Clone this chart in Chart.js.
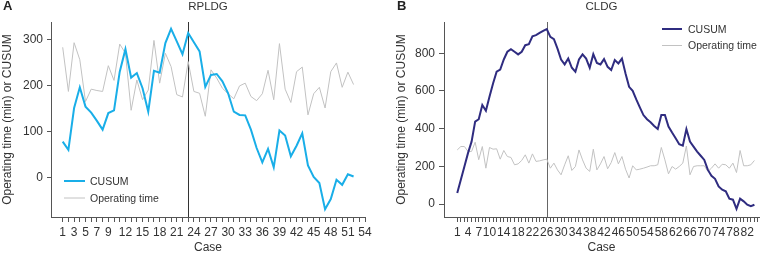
<!DOCTYPE html>
<html><head><meta charset="utf-8">
<script src="https://cdn.jsdelivr.net/npm/chart.js@4/dist/chart.umd.min.js"></script>
<style>
html,body{margin:0;padding:0;background:#fff;}
#wrap{position:relative;width:761px;height:253px;overflow:hidden;background:#fff}
canvas{position:absolute;top:0}
</style></head><body>
<div id="wrap">
<canvas id="ca" width="380" height="253" style="left:0px"></canvas>
<canvas id="cb" width="381" height="253" style="left:380px"></canvas>
</div>
<script>
// ---------- Data ----------
const cusumA = [78,60,151,196,154,141,123,104,140,146,230,279,217,227,194,143,232,228,292,323,296,268,314,294,274,197,223,225,209,183,143,136,135,104,64,33,62,22,102,91,46,69,96,26,1,-12,-69,-47,-5,-16,7,2];
const opTimeA = [283,187,293,256,165,192,189,187,243,211,290,270,146,212,169,190,298,205,270,241,180,175,252,187,183,133,234,216,194,182,171,199,205,176,167,182,233,169,291,192,163,230,240,136,182,196,151,230,249,196,229,202];
const cusumB = [58,129,199,270,331,437,450,525,495,569,640,702,714,767,808,822,808,794,808,843,848,890,896,908,919,928,887,875,825,767,741,772,723,702,767,794,772,723,795,749,741,769,728,711,764,746,772,693,622,601,555,513,472,450,434,414,398,472,472,411,379,349,317,310,398,331,305,278,256,234,181,150,134,93,76,67,28,23,-26,28,14,-4,-12,-4];
const opTimeB = [287,305,305,279,279,328,235,305,190,300,291,293,238,284,252,247,208,213,231,261,217,266,226,229,234,238,190,217,181,155,208,256,178,199,287,234,190,173,291,181,213,252,187,220,273,213,252,185,138,203,181,185,190,196,203,203,208,300,234,160,199,185,199,217,308,155,199,203,203,203,173,190,213,190,211,208,190,217,167,284,203,203,208,231];
const xLabelsA = [1,3,5,7,9,12,15,18,21,24,27,30,33,36,39,42,45,48,51,54];
const xLabelsB = [1,4,7,10,14,18,22,26,30,34,38,42,46,50,54,58,62,66,70,74,78,82];
const yTicksA = [0,100,200,300];
const yTicksB = [0,200,400,600,800];
const changeA = 23, changeB = 26;

const FONT = "'Liberation Sans', Arial, sans-serif";
Chart.defaults.font.family = FONT;
Chart.defaults.color = '#333';

function pts(arr){ return arr.map((v,i)=>({x:i+1,y:v})); }

function panelPlugin(p){
  return {
    id:'panel'+p.letter,
    beforeDatasetsDraw(chart){
      const ctx=chart.ctx, ca=chart.chartArea, x=chart.scales.x.getPixelForValue(p.vline);
      ctx.save(); ctx.strokeStyle=p.vColor; ctx.lineWidth=1;
      ctx.beginPath(); ctx.moveTo(Math.round(x)+0.5,ca.top); ctx.lineTo(Math.round(x)+0.5,ca.bottom); ctx.stroke();
      ctx.restore();
    },
    afterDraw(chart){
      const ctx=chart.ctx, ca=chart.chartArea;
      ctx.save();
      ctx.fillStyle='#222'; ctx.textBaseline='alphabetic';
      ctx.font="bold 13px "+FONT; ctx.textAlign='left';
      ctx.fillText(p.letter,p.letterX,10);
      ctx.font="11.5px "+FONT; ctx.textAlign='center'; ctx.fillStyle='#333';
      ctx.fillText(p.title,(ca.left+ca.right)/2,10);
      // legend
      const L=p.legend, ds=chart.data.datasets;
      ctx.font="10.5px "+FONT; ctx.textAlign='left';
      [[ds[0],L.y1],[ds[1],L.y2]].forEach(([d,y])=>{
        ctx.strokeStyle=d.borderColor; ctx.lineWidth=d.borderWidth;
        ctx.beginPath(); ctx.moveTo(L.x0,y); ctx.lineTo(L.x1,y); ctx.stroke();
        ctx.fillStyle='#333'; ctx.fillText(d.label,L.tx,y+3.6);
      });
      ctx.restore();
    }
  };
}

function makeChart(id,o){
  return new Chart(document.getElementById(id),{
    type:'line',
    data:{datasets:[
      {label:'CUSUM',data:pts(o.cusum),borderColor:o.color,borderWidth:2,pointRadius:0,tension:0,fill:false},
      {label:'Operating time',data:pts(o.op),borderColor:'#c2c2c2',borderWidth:1,pointRadius:0,tension:0,fill:false}
    ]},
    options:{
      responsive:false, animation:false, devicePixelRatio:1,
      layout:{padding:{left:o.padL,right:o.padR,top:22,bottom:0}},
      plugins:{legend:{display:false},title:{display:false},tooltip:{enabled:false}},
      scales:{
        x:{type:'linear',min:o.xmin,max:o.xmax,
          afterBuildTicks(s){ const t=[]; for(let i=1;i<=o.nTicks;i++) t.push({value:i}); s.ticks=t; },
          afterFit(s){ s.height=36; },
          ticks:{autoSkip:false,maxRotation:0,minRotation:0,padding:3,color:'#333',font:{size:12},
            callback:(v)=>o.xLabels.includes(v)?String(v):''},
          grid:{drawOnChartArea:false,drawTicks:true,tickLength:5,color:'#555'},
          border:{display:true,color:'#555',width:1},
          title:{display:true,text:'Case',color:'#333',font:{size:12,lineHeight:0.9},padding:{top:0,bottom:0}}
        },
        y:{type:'linear',min:o.ymin,max:o.ymax,
          afterBuildTicks(s){ s.ticks=o.yTicks.map(v=>({value:v})); },
          afterFit(s){ s.width=o.yW; },
          ticks:{padding:4,color:'#333',font:{size:12}},
          grid:{drawOnChartArea:false,drawTicks:true,tickLength:o.yTL,color:'#555'},
          border:{display:true,color:'#555',width:1},
          title:{display:true,text:'Operating time (min) or CUSUM',color:'#333',font:{size:12},padding:{top:0.5,bottom:0}}
        }
      }
    },
    plugins:[panelPlugin(o.panel)]
  });
}

makeChart('ca',{cusum:cusumA,op:opTimeA,color:'#19aee8',padL:0,padR:15,yW:51,yTL:4,
  xmin:-1.05,xmax:54,nTicks:54,xLabels:xLabelsA,ymin:-86,ymax:338,yTicks:yTicksA,
  panel:{letter:'A',letterX:3,title:'RPLDG',vline:changeA,vColor:'#333',
    legend:{x0:64,x1:85,tx:90,y1:181,y2:198}}});
makeChart('cb',{cusum:cusumB,op:opTimeB,color:'#2f2c80',padL:14,padR:1,yW:50,yTL:5,
  xmin:-2.7,xmax:85.3,nTicks:85,xLabels:xLabelsB,ymin:-69,ymax:966,yTicks:yTicksB,
  panel:{letter:'B',letterX:17,title:'CLDG',vline:changeB,vColor:'#666',
    legend:{x0:282,x1:302,tx:308,y1:29,y2:45.5}}});
</script>
</body></html>
